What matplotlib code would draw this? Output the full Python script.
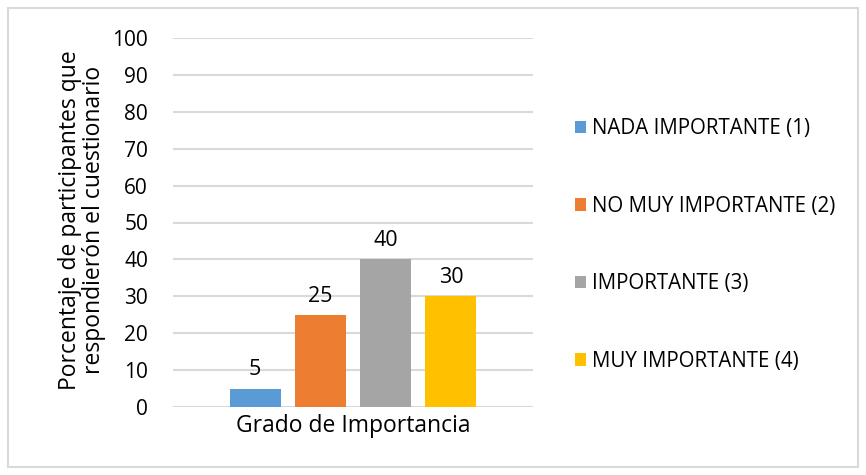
import matplotlib
matplotlib.use("Agg")
import matplotlib.pyplot as plt
from matplotlib.patches import Rectangle

plt.rcParams['font.family'] = ['Open Sans', 'DejaVu Sans']

categories = ["Grado de Importancia"]
series_names = ["NADA IMPORTANTE (1)", "NO MUY IMPORTANTE (2)", "IMPORTANTE (3)", "MUY IMPORTANTE (4)"]
series_values = [5, 25, 40, 30]
colors = ["#5B9BD5", "#ED7D31", "#A5A5A5", "#FFC000"]
y_ticks = [0, 10, 20, 30, 40, 50, 60, 70, 80, 90, 100]
y_label = "Porcentaje de participantes que\nrespondierón el cuestionario"

fig = plt.figure(figsize=(8.66, 4.75), dpi=100)
ax = fig.add_axes([173/866, 1-407/475, 360/866, 369/475])

width = 0.78
n = len(series_values)
for i, (name, v, c) in enumerate(zip(series_names, series_values, colors)):
    x = i - (n - 1) / 2
    ax.bar(x, v, width=width, color=c, label=name, zorder=3)
    ax.text(x, v + 2.2, str(v), ha='center', va='bottom', fontsize=15.5, color='#000000')

ax.set_xlim(-2.757, 2.757)
ax.set_ylim(0, 100)
ax.set_yticks(y_ticks)
ax.set_yticklabels([str(t) for t in y_ticks], fontsize=15)
ax.set_xticks([0])
ax.set_xticklabels(categories, fontsize=16.5)
ax.tick_params(axis='y', length=0, pad=18)
ax.tick_params(axis='x', length=0, pad=5)
ax.grid(axis='y', color='#d9d9d9', linewidth=1.5, zorder=0)
for s in ax.spines.values():
    s.set_visible(False)
ax.axhline(0, color='#d9d9d9', linewidth=1.5, zorder=2)

fig.text(82/866, 1-220/475, y_label, rotation=90, ha='center', va='center',
         fontsize=16.5, linespacing=1.0)

handles, labels = ax.get_legend_handles_labels()
leg = fig.legend(handles, labels, loc='center left', bbox_to_anchor=(556/866, 1-245/475),
                 frameon=False, fontsize=14.8, handlelength=0.55, handleheight=0.55,
                 handletextpad=0.3, labelspacing=2.75)

fig.patches.append(Rectangle((8/866, 8/475), 850/866, 459/475, transform=fig.transFigure,
                             fill=False, edgecolor='#d9d9d9', linewidth=1.5))

fig.savefig("out.png", dpi=100, facecolor='white')
